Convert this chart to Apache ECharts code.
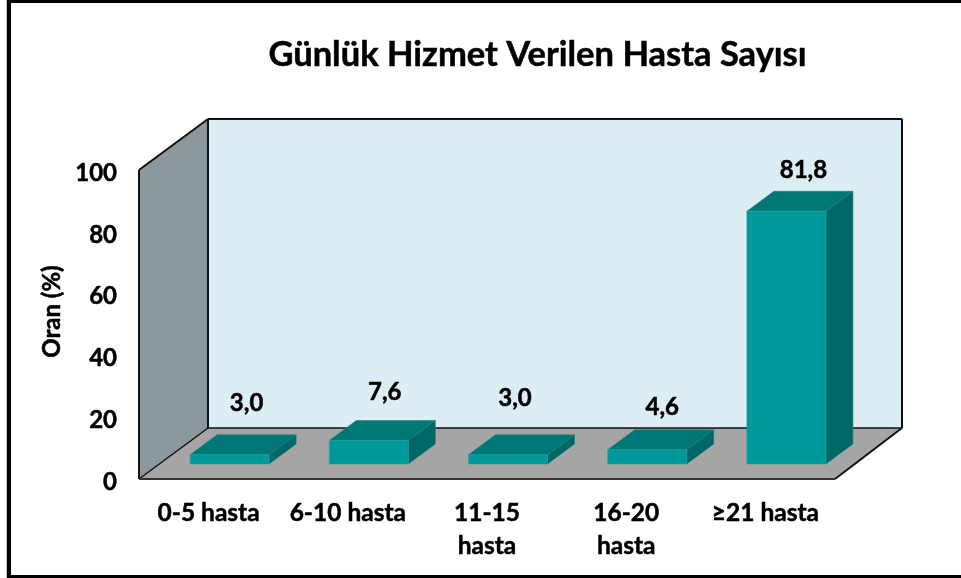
<!DOCTYPE html>
<html>
<head>
<meta charset="utf-8">
<style>html,body{margin:0;padding:0;background:#fff}#c{width:961px;height:578px}</style>
<script src="https://cdn.jsdelivr.net/npm/echarts@6/dist/echarts.min.js"></script>
</head>
<body>
<div id="c"></div>
<script>
const categories = ['0-5 hasta', '6-10 hasta', '11-15\nhasta', '16-20\nhasta', '≥21 hasta'];
const values = [3.0, 7.6, 3.0, 4.6, 81.8];
const valueLabels = ['3,0', '7,6', '3,0', '4,6', '81,8'];
const yTicks = { min: 0, max: 100, interval: 20 };
const titleText = 'Günlük Hizmet Verilen Hasta Sayısı';
const yName = 'Oran (%)';

// Hand-placed label offsets from the bar's top centre, as in the reference
const labelDx = [17, 16, 7, 15, 17];
const labelDy = [-51, -48, -56, -43, -41];

const FONT = 'Lato';
const DEPTH_X = 69, DEPTH_X_RIGHT = 67, DEPTH_Y = 51;
const BAR_W = 79, BAR_DX = 27, BAR_DY = 20;
const BASE_DX = 21, BASE_DY = 15;
const HEAVY = { textBorderColor: '#000', textBorderWidth: 0.5 };

const chart = echarts.init(document.getElementById('c'), null, { renderer: 'canvas' });

function poly(points, fill, stroke, lw) {
  return { type: 'polygon', shape: { points }, style: { fill, stroke: stroke || fill, lineWidth: lw === undefined ? 1 : lw } };
}
function seg(x1, y1, x2, y2, w, col) {
  return { type: 'line', shape: { x1, y1, x2, y2 }, style: { stroke: col || '#111', lineWidth: w || 2 } };
}

chart.setOption({
  animation: false,
  backgroundColor: '#fff',
  title: {
    text: titleText, left: 532.5, top: 32, textAlign: 'center',
    textStyle: Object.assign({ fontFamily: FONT, fontWeight: 'bold', fontSize: 34.5, color: '#000' }, HEAVY)
  },
  grid: { left: 139, right: 126, top: 170, bottom: 99, containLabel: false },
  xAxis: {
    type: 'category', data: categories,
    axisLine: { show: false }, axisTick: { show: false }, splitLine: { show: false },
    axisLabel: Object.assign({ margin: 18, fontFamily: FONT, fontWeight: 'bold', fontSize: 24.5, color: '#000', lineHeight: 33, interval: 0, align: 'center' }, HEAVY)
  },
  yAxis: {
    type: 'value', min: yTicks.min, max: yTicks.max, interval: yTicks.interval,
    name: yName, nameLocation: 'middle', nameRotate: 90, nameGap: 73.5,
    nameTextStyle: Object.assign({ fontFamily: FONT, fontWeight: 'bold', fontSize: 24, color: '#000', padding: [0, 0, 0, 26] }, HEAVY),
    axisLine: { show: false }, axisTick: { show: false }, splitLine: { show: false },
    axisLabel: {
      margin: 22, color: '#000',
      formatter: '{t|{value}}',
      rich: { t: Object.assign({ fontFamily: FONT, fontWeight: 'bold', fontSize: 24, color: '#000', padding: [6, 0, 0, 0] }, HEAVY) }
    }
  },
  graphic: [
    { type: 'rect', silent: true, z: 100, shape: { x: 6, y: 0, width: 1, height: 578 }, style: { fill: '#c8c8c8' } },
    { type: 'rect', silent: true, z: 100, shape: { x: 7, y: 0, width: 4, height: 578 }, style: { fill: '#000' } },
    { type: 'rect', silent: true, z: 100, shape: { x: 7, y: 0, width: 954, height: 3 }, style: { fill: '#000' } },
    { type: 'rect', silent: true, z: 100, shape: { x: 7, y: 575, width: 954, height: 3 }, style: { fill: '#000' } }
  ],
  series: [
    {
      // walls and floor, taken from the grid rectangle
      type: 'custom', coordinateSystem: 'cartesian2d', silent: true, z: 1,
      data: [[0, 0]], encode: { x: 0, y: 1 },
      renderItem(params, api) {
        const l = api.coord([0, yTicks.min])[0] - api.size([1, 0])[0] / 2;
        const r = l + api.size([1, 0])[0] * categories.length;
        const b = api.coord([0, yTicks.min])[1];
        const t = api.coord([0, yTicks.max])[1];
        const dx = DEPTH_X, dxr = DEPTH_X_RIGHT, dy = DEPTH_Y;
        return {
          type: 'group',
          children: [
            poly([[l + dx, t - dy], [r + dxr, t - dy], [r + dxr, b - dy], [l + dx, b - dy]], '#DCEEF4', 'none', 0),
            poly([[l, t], [l + dx, t - dy], [l + dx, b - dy], [l, b]], '#8C989C', 'none', 0),
            poly([[l, b], [l + dx, b - dy], [r + dxr, b - dy], [r, b]], '#A5A5A5', 'none', 0),
            seg(l, t, l + dx, t - dy),
            seg(l + dx, t - dy, r + dxr, t - dy),
            seg(r + dxr, t - dy, r + dxr, b - dy),
            seg(l, t, l, b),
            seg(l + dx, t - dy, l + dx, b - dy, 2),
            seg(l + dx, b - dy, r + dxr, b - dy, 1.5),
            seg(l, b, l + dx, b - dy, 1.5),
            seg(r, b, r + dxr, b - dy),
            seg(l, b, r, b, 2, '#333')
          ]
        };
      }
    },
    {
      type: 'custom', coordinateSystem: 'cartesian2d', silent: true, z: 2,
      data: values.map((v, i) => [i, v]), encode: { x: 0, y: 1 },
      renderItem(params, api) {
        const i = api.value(0);
        const top = api.coord([i, api.value(1)]);
        const base = api.coord([i, 0]);
        const xl = top[0] + BASE_DX - BAR_W / 2, xr = xl + BAR_W;
        const yt = top[1] - BASE_DY, yb = base[1] - BASE_DY;
        const ddx = BAR_DX, ddy = BAR_DY;
        return {
          type: 'group',
          children: [
            poly([[xr, yt], [xr + ddx, yt - ddy], [xr + ddx, yb - ddy], [xr, yb]], '#006666', '#1a7a7a', 0.6),
            poly([[xl, yt], [xl + ddx, yt - ddy], [xr + ddx, yt - ddy], [xr, yt]], '#007777', '#1a8585', 0.6),
            poly([[xl, yt], [xr, yt], [xr, yb], [xl, yb]], '#009999', '#22a3a3', 0.6),
            {
              type: 'text',
              style: {
                x: top[0] + BASE_DX + labelDx[i],
                y: yt + labelDy[i],
                text: valueLabels[i],
                fill: '#000',
                stroke: '#000',
                lineWidth: 0.5,
                font: 'bold 24px ' + FONT,
                align: 'center', verticalAlign: 'middle'
              }
            }
          ]
        };
      }
    }
  ]
});
</script>
</body>
</html>
